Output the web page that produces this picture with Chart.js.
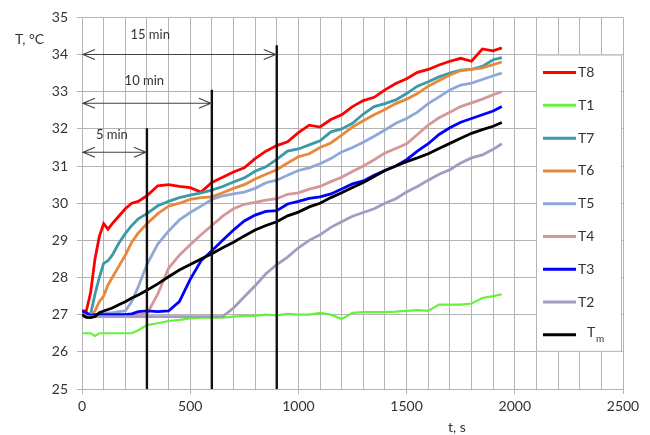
<!DOCTYPE html>
<html>
<head>
<meta charset="utf-8">
<script src="https://cdn.jsdelivr.net/npm/chart.js@4"></script>
<style>
  html, body { margin: 0; padding: 0; background: #fff; }
</style>
</head>
<body>
<canvas id="chart" width="650" height="435"></canvas>
<script>
// sample times, s
const time = [0, 20, 40, 60, 80, 100, 120, 140, 170, 200, 230, 260, 300, 350, 400, 450, 500, 550, 600, 650,
  700, 750, 800, 850, 900, 950, 1000, 1050, 1100, 1150, 1200, 1250, 1300, 1350, 1400, 1450, 1500, 1550,
  1600, 1650, 1700, 1750, 1800, 1850, 1900, 1940];

// temperatures, °C
const T8 = [27.1, 27.1, 27.6, 28.5, 29.1, 29.45, 29.3, 29.45, 29.65, 29.85, 30.0, 30.05, 30.2, 30.47, 30.5, 30.45, 30.42, 30.3, 30.56, 30.7,
  30.84, 30.95, 31.2, 31.4, 31.55, 31.65, 31.9, 32.1, 32.05, 32.25, 32.38, 32.6, 32.76, 32.85, 33.05, 33.22, 33.35, 33.52,
  33.6, 33.72, 33.82, 33.9, 33.82, 34.15, 34.1, 34.18];
const T1 = [26.5, 26.5, 26.5, 26.43, 26.5, 26.5, 26.5, 26.5, 26.5, 26.5, 26.5, 26.58, 26.72, 26.77, 26.83, 26.86, 26.9, 26.92, 26.93, 26.92,
  26.95, 26.97, 26.97, 27.0, 26.98, 27.02, 27.0, 27.0, 27.05, 27.0, 26.88, 27.05, 27.07, 27.07, 27.07, 27.08, 27.1, 27.12,
  27.1, 27.27, 27.27, 27.27, 27.3, 27.45, 27.5, 27.55];
const T7 = [27.0, 27.0, 27.02, 27.55, 28.0, 28.38, 28.45, 28.6, 28.92, 29.18, 29.4, 29.58, 29.72, 29.93, 30.05, 30.15, 30.22, 30.28, 30.35, 30.45,
  30.57, 30.68, 30.86, 30.98, 31.18, 31.4, 31.46, 31.57, 31.68, 31.92, 32.0, 32.15, 32.4, 32.6, 32.68, 32.78, 32.95, 33.15,
  33.27, 33.4, 33.5, 33.58, 33.6, 33.68, 33.86, 33.92];
const T6 = [27.0, 27.0, 27.0, 27.1, 27.35, 27.5, 27.8, 28.0, 28.3, 28.6, 28.95, 29.2, 29.45, 29.72, 29.92, 30.0, 30.1, 30.15, 30.17, 30.28,
  30.4, 30.5, 30.65, 30.78, 30.9, 31.08, 31.25, 31.33, 31.5, 31.62, 31.83, 32.05, 32.22, 32.38, 32.52, 32.68, 32.8, 32.95,
  33.15, 33.3, 33.45, 33.57, 33.6, 33.64, 33.73, 33.8];
const T5 = [27.0, 27.0, 27.0, 27.0, 27.0, 27.02, 27.05, 27.05, 27.08, 27.1, 27.35, 27.75, 28.35, 28.9, 29.25, 29.55, 29.75, 29.92, 30.1, 30.2,
  30.25, 30.3, 30.4, 30.55, 30.62, 30.75, 30.88, 30.95, 31.06, 31.2, 31.38, 31.5, 31.64, 31.8, 31.97, 32.15, 32.28, 32.45,
  32.68, 32.86, 33.05, 33.18, 33.23, 33.33, 33.43, 33.5];
const T4 = [27.0, 27.0, 27.0, 27.0, 27.0, 27.0, 27.0, 27.0, 27.0, 27.0, 27.0, 27.0, 27.02, 27.55, 28.25, 28.6, 28.88, 29.15, 29.4, 29.65,
  29.85, 29.97, 30.02, 30.08, 30.12, 30.24, 30.28, 30.38, 30.45, 30.58, 30.7, 30.85, 31.0, 31.17, 31.35, 31.47, 31.6, 31.85,
  32.1, 32.3, 32.45, 32.6, 32.7, 32.8, 32.92, 33.0];
const T3 = [27.1, 27.05, 26.98, 27.0, 27.0, 27.0, 27.0, 27.0, 27.0, 27.0, 27.02, 27.08, 27.1, 27.08, 27.1, 27.35, 27.95, 28.45, 28.72, 29.0,
  29.28, 29.52, 29.68, 29.78, 29.8, 29.98, 30.05, 30.13, 30.17, 30.25, 30.38, 30.52, 30.6, 30.75, 30.88, 31.0, 31.17, 31.4,
  31.6, 31.85, 32.03, 32.18, 32.28, 32.38, 32.48, 32.6];
const T2 = [26.95, 26.95, 26.95, 26.95, 26.95, 26.95, 26.95, 26.95, 26.95, 26.95, 26.95, 26.95, 26.95, 26.95, 26.95, 26.95, 26.95, 26.95, 26.95, 26.95,
  27.18, 27.48, 27.78, 28.1, 28.35, 28.55, 28.8, 29.0, 29.15, 29.35, 29.5, 29.65, 29.75, 29.85, 30.0, 30.12, 30.3, 30.45,
  30.62, 30.78, 30.9, 31.08, 31.22, 31.3, 31.45, 31.6];
const Tm = [27.0, 26.93, 26.92, 26.95, 27.05, 27.1, 27.14, 27.18, 27.27, 27.35, 27.45, 27.53, 27.66, 27.83, 28.02, 28.2, 28.35, 28.5, 28.64, 28.8,
  28.95, 29.12, 29.28, 29.4, 29.5, 29.66, 29.76, 29.9, 30.0, 30.15, 30.28, 30.42, 30.56, 30.72, 30.88, 31.0, 31.12, 31.22,
  31.33, 31.47, 31.61, 31.75, 31.88, 31.98, 32.07, 32.17];

const seriesNames = ['T8', 'T1', 'T7', 'T6', 'T5', 'T4', 'T3', 'T2', 'Tm'];
const seriesValues = [T8, T1, T7, T6, T5, T4, T3, T2, Tm];
const seriesColors = ['#ff0000', '#66f23a', '#3a9aa6', '#e8883a', '#8fa8d8', '#d69798', '#0000ff', '#a49bc0', '#000000'];

// time marks (s) with the arrows above them
const markTimes = [300, 600, 900];
const markTops = [32.02, 33.05, 34.25];
const arrowLevels = [31.37, 32.69, 34.0];
const markLabels = ['5 min', '10 min', '15 min'];
const labelAt = [[138, 31.85], [288, 33.3], [315, 34.54]];

const FONT = 'Lato, "Open Sans", sans-serif';
const GRID = '#b4b4b4';

const datasets = seriesNames.map((name, i) => ({
  label: name,
  data: time.map((t, j) => ({ x: t, y: seriesValues[i][j] })),
  borderColor: seriesColors[i],
  backgroundColor: seriesColors[i],
  borderWidth: name === 'T1' ? 2.2 : 2.8,
  pointRadius: 0,
  tension: 0,
  fill: false,
  order: seriesNames.length - 1 - i   // last series on top, like the source
}));

function chevron(ctx, x, y, dir) {
  ctx.moveTo(x + dir * 12, y - 5);
  ctx.lineTo(x, y);
  ctx.lineTo(x + dir * 12, y + 5);
}

const marksPlugin = {
  id: 'marks',
  afterDatasetsDraw(chart) {
    const { ctx } = chart;
    const xs = chart.scales.x, ys = chart.scales.y;
    ctx.save();
    // vertical time lines
    ctx.strokeStyle = '#111';
    ctx.lineWidth = 2.4;
    markTimes.forEach((t, i) => {
      const px = xs.getPixelForValue(t);
      ctx.beginPath();
      ctx.moveTo(px, ys.getPixelForValue(25));
      ctx.lineTo(px, ys.getPixelForValue(markTops[i]));
      ctx.stroke();
    });
    // double arrows
    ctx.strokeStyle = '#404040';
    ctx.lineWidth = 1.1;
    markTimes.forEach((t, i) => {
      const y = ys.getPixelForValue(arrowLevels[i]);
      const x0 = xs.getPixelForValue(0) + 1, x1 = xs.getPixelForValue(t) - 1;
      ctx.beginPath();
      ctx.moveTo(x0, y);
      ctx.lineTo(x1, y);
      chevron(ctx, x0, y, 1);
      chevron(ctx, x1, y, -1);
      ctx.stroke();
    });
    ctx.fillStyle = '#333';
    ctx.font = '13px ' + FONT;
    ctx.textAlign = 'center';
    ctx.textBaseline = 'middle';
    markLabels.forEach((s, i) => {
      ctx.fillText(s, xs.getPixelForValue(labelAt[i][0]), ys.getPixelForValue(labelAt[i][1]));
    });
    ctx.restore();
  },
  afterDraw(chart) {
    const { ctx, chartArea } = chart;
    const ys = chart.scales.y;
    ctx.save();
    // axis titles
    ctx.fillStyle = '#333';
    ctx.font = '14px ' + FONT;
    ctx.textBaseline = 'middle';
    ctx.textAlign = 'left';
    ctx.fillText('T, °C', 15, 39);
    ctx.textAlign = 'center';
    ctx.fillText('t, s', 457, 427);

    // legend box sitting on the plot
    const left = chartArea.right - 87, right = chartArea.right - 1;
    const top = ys.getPixelForValue(34), bottom = ys.getPixelForValue(26);
    ctx.fillStyle = '#fff';
    ctx.fillRect(left, top, right - left, bottom - top);
    ctx.strokeStyle = GRID;
    ctx.lineWidth = 1;
    ctx.strokeRect(left + 0.5, top + 0.5, right - left - 1, bottom - top - 1);
    const step = (bottom - top - 35) / (seriesNames.length - 1);
    chart.data.datasets.forEach((ds, i) => {
      const y = top + 18 + i * step;
      ctx.strokeStyle = ds.borderColor;
      ctx.lineWidth = 3;
      ctx.beginPath();
      ctx.moveTo(left + 7, y);
      ctx.lineTo(left + 40, y);
      ctx.stroke();
      ctx.fillStyle = '#333';
      ctx.textAlign = 'left';
      if (ds.label === 'Tm') {
        ctx.font = '14px ' + FONT;
        ctx.fillText('T', left + 51, y - 2);
        ctx.font = '10px ' + FONT;
        ctx.fillText('m', left + 60, y + 4);
      } else {
        ctx.font = '14px ' + FONT;
        ctx.fillText(ds.label, left + 42, y);
      }
    });
    ctx.restore();
  }
};

new Chart(document.getElementById('chart'), {
  type: 'line',
  data: { datasets },
  options: {
    responsive: false,
    animation: false,
    layout: { padding: { top: 17, right: 27, left: 0, bottom: 0 } },
    plugins: {
      legend: { display: false },
      tooltip: { enabled: false }
    },
    scales: {
      x: {
        type: 'linear',
        min: 0,
        max: 2500,
        afterFit: (scale) => { scale.height = 46; },
        grid: {
          color: GRID,
          lineWidth: 1,
          tickLength: 5,
          tickColor: (c) => (c.tick && c.tick.value % 500 === 0 ? GRID : 'rgba(0,0,0,0)')
        },
        border: { color: GRID },
        ticks: {
          stepSize: 100,
          autoSkip: false,
          maxRotation: 0,
          padding: 4,
          color: '#333',
          font: { family: FONT, size: 14 },
          callback: (v) => (v % 500 === 0 ? v : '')
        }
      },
      y: {
        min: 25,
        max: 35,
        afterFit: (scale) => { scale.width = 82; },
        grid: { color: GRID, lineWidth: 1, tickLength: 5 },
        border: { color: GRID },
        ticks: {
          stepSize: 1,
          padding: 9,
          color: '#333',
          font: { family: FONT, size: 14 }
        }
      }
    }
  },
  plugins: [marksPlugin]
});
</script>
</body>
</html>
